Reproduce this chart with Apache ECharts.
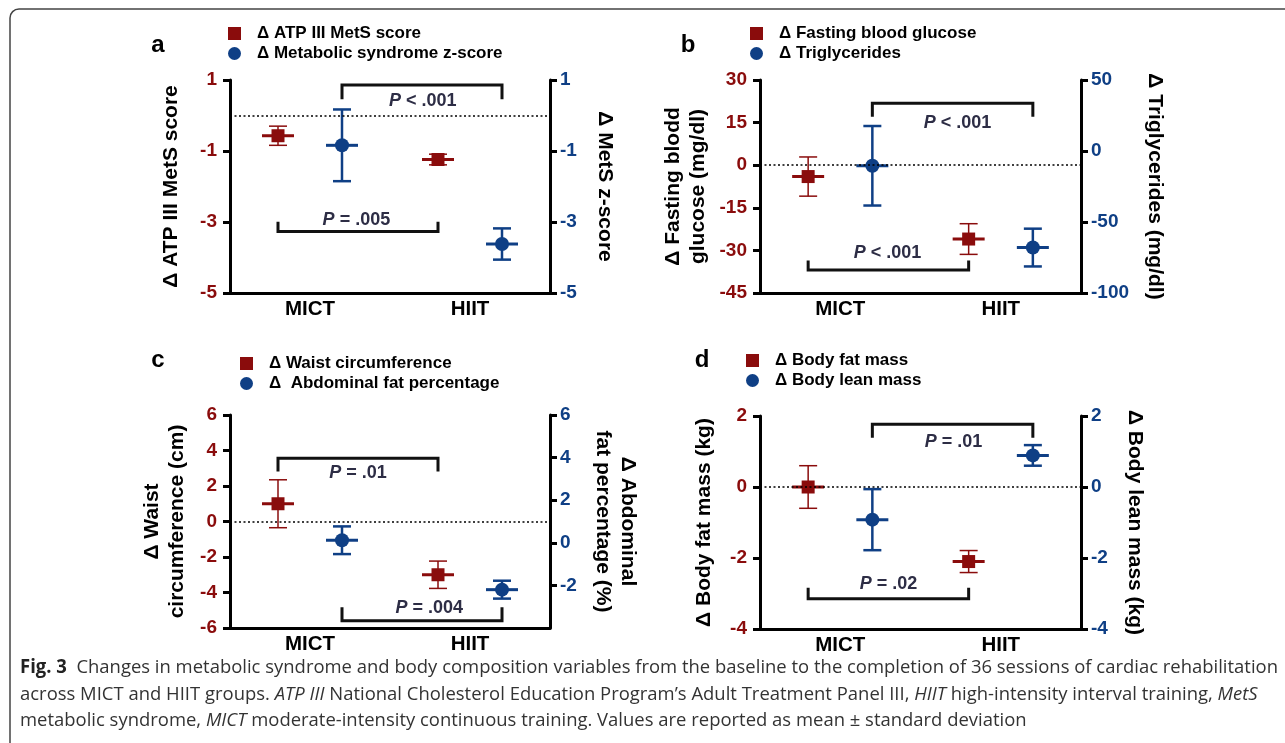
<!DOCTYPE html>
<html>
<head>
<meta charset="utf-8">
<title>Fig. 3</title>
<script src="https://cdn.jsdelivr.net/npm/echarts@6.0.0/dist/echarts.min.js"></script>
<style>
html, body { margin: 0; padding: 0; background: #fff; }
#chart { width: 1285px; height: 743px; }
</style>
</head>
<body>
<div id="chart"></div>
<script>
// groups on the x axis
const groups = ['MICT', 'HIIT'];

// a: ATP III MetS score (left axis), metabolic syndrome z-score (right axis)
const atpMean = [-0.57, -1.24];
const atpSd = [0.27, 0.15];
const zMean = [-0.84, -3.62];
const zSd = [1.01, 0.44];

// b: fasting blood glucose (left), triglycerides (right)
const fbgMean = [-4.0, -26.0];
const fbgSd = [6.9, 5.4];
const tgMean = [-10.4, -68.0];
const tgSd = [28.0, 13.3];

// c: waist circumference (left), abdominal fat percentage (right)
const waistMean = [1.0, -3.0];
const waistSd = [1.35, 0.77];
const abdMean = [0.12, -2.2];
const abdSd = [0.65, 0.42];

// d: body fat mass (left), body lean mass (right)
const fatMean = [0.0, -2.1];
const fatSd = [0.6, 0.31];
const leanMean = [-0.92, 0.89];
const leanSd = [0.86, 0.29];

// tick labels
const aTicks = [-5, -3, -1, 1];
const bLeftTicks = [-45, -30, -15, 0, 15, 30];
const bRightTicks = [-100, -50, 0, 50];
const cLeftTicks = [-6, -4, -2, 0, 2, 4, 6];
const cRightTicks = [-2, 0, 2, 4, 6];
const dTicks = [-4, -2, 0, 2];

const FONT = '"Liberation Sans", Arial, Helvetica, sans-serif';
const RED = '#8a0c0c';
const BLUE = '#0f3f85';
const PCOL = '#2d2d45';

// x position of a group, side -1 = red (left), +1 = blue (right)
function gx(i, side) { return 2 * i + 1 + side * 0.4; }

const panels = [
  {
    letter: 'a', letterPos: [158, 45], legendPos: [228, 25],
    grid: { left: 230, top: 80, width: 320, height: 213 },
    left: { min: -5, max: 1, step: 2, ticks: aTicks, name: 'Δ ATP III MetS score', gap: 46 },
    right: { min: -5, max: 1, step: 2, ticks: aTicks, name: 'Δ MetS z-score', gap: 42 },
    red: { name: 'Δ ATP III MetS score', mean: atpMean, sd: atpSd },
    blue: { name: 'Δ Metabolic syndrome z-score', mean: zMean, sd: zSd },
    brackets: [
      { x: [1.4, 3.4], y: [0.86, 0.46], text: ' < .001', at: [2.41, 0.41] },
      { x: [0.6, 2.6], y: [-3.27, -2.99], text: ' = .005', at: [1.58, -2.94] }
    ]
  },
  {
    letter: 'b', letterPos: [688, 45], legendPos: [750, 25],
    grid: { left: 760, top: 80, width: 321, height: 213 },
    left: { min: -45, max: 30, step: 15, ticks: bLeftTicks, name: 'Δ Fasting blodd\nglucose (mg/dl)', gap: 49 },
    right: { min: -100, max: 50, step: 50, ticks: bRightTicks, name: 'Δ Triglycerides (mg/dl)', gap: 61 },
    red: { name: 'Δ Fasting blood glucose', mean: fbgMean, sd: fbgSd },
    blue: { name: 'Δ Triglycerides', mean: tgMean, sd: tgSd },
    brackets: [
      { x: [1.4, 3.4], y: [21.8, 17.1], text: ' < .001', at: [2.46, 14.75] },
      { x: [0.6, 2.6], y: [-36.9, -33.6], text: ' < .001', at: [1.59, -31.0] }
    ]
  },
  {
    letter: 'c', letterPos: [158, 360], legendPos: [240, 355],
    grid: { left: 230, top: 415, width: 320, height: 213 },
    left: { min: -6, max: 6, step: 2, ticks: cLeftTicks, name: 'Δ Waist\ncircumference (cm)', gap: 40 },
    right: { min: -4, max: 6, step: 2, ticks: cRightTicks, name: 'Δ Abdominal\nfat percentage (%)', gap: 40 },
    red: { name: 'Δ Waist circumference', mean: waistMean, sd: waistSd },
    blue: { name: 'Δ  Abdominal fat percentage', mean: abdMean, sd: abdSd },
    brackets: [
      { x: [0.6, 2.6], y: [3.56, 2.81], text: ' = .01', at: [1.6, 2.72] },
      { x: [1.4, 3.4], y: [-5.59, -4.83], text: ' = .004', at: [2.49, -4.89] }
    ]
  },
  {
    letter: 'd', letterPos: [702, 360], legendPos: [746, 352],
    grid: { left: 760, top: 416, width: 321, height: 213 },
    left: { min: -4, max: 2, step: 2, ticks: dTicks, name: 'Δ Body fat mass (kg)', gap: 43 },
    right: { min: -4, max: 2, step: 2, ticks: dTicks, name: 'Δ Body lean mass (kg)', gap: 41 },
    red: { name: 'Δ Body fat mass', mean: fatMean, sd: fatSd },
    blue: { name: 'Δ Body lean mass', mean: leanMean, sd: leanSd },
    brackets: [
      { x: [1.4, 3.4], y: [1.77, 1.39], text: ' = .01', at: [2.41, 1.28] },
      { x: [0.6, 2.6], y: [-3.15, -2.84], text: ' = .02', at: [1.6, -2.74] }
    ]
  }
];

function yAxis(g, pos, ax, color) {
  const isLeft = pos === 'left';
  return {
    type: 'value', gridIndex: g, position: pos,
    min: ax.min, max: ax.max, interval: ax.step,
    axisLine: { show: true, onZero: false, lineStyle: { color: '#000', width: 3 } },
    axisTick: { show: true, length: 7, customValues: ax.ticks, lineStyle: { color: '#000', width: 3 } },
    axisLabel: {
      customValues: ax.ticks, color: color, fontFamily: FONT, fontWeight: 'bold',
      fontSize: 19, margin: isLeft ? 13 : 10
    },
    splitLine: { show: false },
    name: ax.name, nameLocation: 'middle', nameGap: ax.gap, nameRotate: isLeft ? 90 : -90,
    nameTextStyle: { fontFamily: FONT, fontWeight: 'bold', fontSize: 21, color: '#000', lineHeight: 25 }
  };
}

function errorBars(lw) {
  return function (params, api) {
    const x = api.value(0), m = api.value(1), s = api.value(2);
    const top = api.coord([x, m + s]);
    const bot = api.coord([x, m - s]);
    const mid = api.coord([x, m]);
    const color = api.visual('color');
    const st = { stroke: color, lineWidth: lw, fill: null };
    return {
      type: 'group',
      children: [
        { type: 'line', shape: { x1: top[0], y1: top[1], x2: bot[0], y2: bot[1] }, style: st },
        { type: 'line', shape: { x1: top[0] - 9, y1: top[1], x2: top[0] + 9, y2: top[1] }, style: st },
        { type: 'line', shape: { x1: bot[0] - 9, y1: bot[1], x2: bot[0] + 9, y2: bot[1] }, style: st },
        { type: 'line', shape: { x1: mid[0] - 16, y1: mid[1], x2: mid[0] + 16, y2: mid[1] },
          style: { stroke: color, lineWidth: 3, fill: null } }
      ]
    };
  };
}

function bracketRender(params, api) {
  const x1 = api.value(0), x2 = api.value(1), yH = api.value(2), yL = api.value(3);
  const b = panelsBrackets[params.seriesIndex][params.dataIndex];
  const p1 = api.coord([x1, yL]), p2 = api.coord([x1, yH]);
  const p3 = api.coord([x2, yH]), p4 = api.coord([x2, yL]);
  const t = api.coord(b.at);
  return {
    type: 'group',
    children: [
      { type: 'polyline', shape: { points: [p1, p2, p3, p4] },
        style: { stroke: '#111', lineWidth: 3, fill: null } },
      { type: 'text', x: t[0], y: t[1],
        style: {
          text: '{i|P}{b|' + b.text + '}', align: 'center', verticalAlign: 'middle',
          rich: {
            i: { fontFamily: FONT, fontSize: 18, fontWeight: 'bold', fontStyle: 'italic', fill: PCOL },
            b: { fontFamily: FONT, fontSize: 18, fontWeight: 'bold', fill: PCOL }
          }
        } }
    ]
  };
}

const grids = [], xAxes = [], yAxes = [], series = [], legends = [], graphics = [];
const panelsBrackets = {};

panels.forEach((p, g) => {
  grids.push(Object.assign({ outerBoundsMode: 'none', containLabel: false }, p.grid));
  xAxes.push({
    type: 'value', gridIndex: g, min: 0, max: 4, interval: 1,
    axisLine: { show: true, onZero: false, lineStyle: { color: '#000', width: 3 } },
    axisTick: { show: false }, splitLine: { show: false },
    axisLabel: {
      customValues: [1, 3],
      formatter: v => (v === 1 || v === 3) ? groups[(v - 1) / 2] : '',
      fontFamily: FONT, fontWeight: 'bold', fontSize: 20.5, color: '#000', margin: 6
    }
  });
  yAxes.push(yAxis(g, 'left', p.left, RED));
  yAxes.push(yAxis(g, 'right', p.right, BLUE));

  [['red', -1, 2 * g, RED, 'rect', 13, 1.5], ['blue', 1, 2 * g + 1, BLUE, 'circle', 14, 2.5]]
    .forEach(([key, side, yi, color, symbol, size, lw]) => {
      const s = p[key];
      series.push({
        type: 'custom', name: 'err-' + g + key, xAxisIndex: g, yAxisIndex: yi, z: 2,
        itemStyle: { color: color }, renderItem: errorBars(lw),
        encode: { x: 0, y: 1 },
        data: groups.map((_, i) => [gx(i, side), s.mean[i], s.sd[i]])
      });
      const sc = {
        type: 'scatter', name: s.name, xAxisIndex: g, yAxisIndex: yi, z: 3,
        symbol: symbol, symbolSize: size, itemStyle: { color: color, opacity: 1 },
        data: groups.map((_, i) => [gx(i, side), s.mean[i]])
      };
      if (key === 'red') {
        sc.markLine = {
          silent: true, symbol: ['none', 'none'], label: { show: false },
          lineStyle: { color: '#000', width: 1.5, type: [2, 2.5] },
          data: [{ yAxis: 0 }]
        };
      }
      series.push(sc);
    });

  panelsBrackets[series.length] = p.brackets;
  series.push({
    type: 'custom', name: 'brackets-' + g, xAxisIndex: g, yAxisIndex: 2 * g, z: 4,
    renderItem: bracketRender, encode: { x: [0, 1], y: [2, 3] },
    data: p.brackets.map(b => [b.x[0], b.x[1], b.y[0], b.y[1]])
  });

  legends.push({
    orient: 'vertical', left: p.legendPos[0], top: p.legendPos[1], padding: 0,
    itemWidth: 13, itemHeight: 13, itemGap: 3, selectedMode: false,
    data: [{ name: p.red.name, icon: 'rect' }, { name: p.blue.name, icon: 'circle' }],
    textStyle: { fontFamily: FONT, fontWeight: 'bold', fontSize: 17, color: '#000',
      lineHeight: 16, padding: [0, 0, 0, 11] }
  });

  graphics.push({
    type: 'text', x: p.letterPos[0], y: p.letterPos[1],
    style: { text: p.letter, fontFamily: FONT, fontWeight: 'bold', fontSize: 24,
      fill: '#000', align: 'center', verticalAlign: 'middle' }
  });
});

// caption
const capLines = [
  [['Fig. 3', 'b'], ['  Changes in metabolic syndrome and body composition variables from the baseline to the completion of 36 sessions of cardiac rehabilitation', 'n']],
  [['across MICT and HIIT groups. ', 'n'], ['ATP III', 'i'], [' National Cholesterol Education Program’s Adult Treatment Panel III, ', 'n'], ['HIIT', 'i'], [' high-intensity interval training, ', 'n'], ['MetS', 'i']],
  [['metabolic syndrome, ', 'n'], ['MICT', 'i'], [' moderate-intensity continuous training. Values are reported as mean ± standard deviation', 'n']]
];
const CAPFONT = '"Open Sans", "DejaVu Sans", sans-serif';
const CAPSIZE = 19;
function capCss(k) {
  return (k === 'i' ? 'italic ' : '') + (k === 'b' ? 'bold ' : '') + CAPSIZE + 'px ' + CAPFONT;
}
const mctx = document.createElement('canvas').getContext('2d');
function lineWidth(segs) {
  let w = 0;
  segs.forEach(([t, k]) => { mctx.font = capCss(k); w += mctx.measureText(t).width; });
  return w;
}
const capScale = 1258 / lineWidth(capLines[0]);
const capRich = {
  n: { fontFamily: CAPFONT, fontSize: CAPSIZE, fill: '#333' },
  i: { fontFamily: CAPFONT, fontSize: CAPSIZE, fontStyle: 'italic', fill: '#333' },
  b: { fontFamily: CAPFONT, fontSize: CAPSIZE, fontWeight: 'bold', fill: '#222' }
};
[668, 695, 721].forEach((y, li) => {
  graphics.push({
    type: 'text', x: 20, y: y, scaleX: capScale,
    style: {
      text: capLines[li].map(([t, k]) => '{' + k + '|' + t + '}').join(''),
      rich: capRich, verticalAlign: 'middle'
    }
  });
});

// frame
graphics.push({
  type: 'rect', shape: { x: 10, y: 9, width: 1300, height: 760, r: 9 },
  style: { fill: null, stroke: '#444', lineWidth: 1.5 }
});

const chart = echarts.init(document.getElementById('chart'));
chart.setOption({
  animation: false,
  backgroundColor: '#fff',
  grid: grids,
  xAxis: xAxes,
  yAxis: yAxes,
  legend: legends,
  series: series,
  graphic: graphics
});
</script>
</body>
</html>
